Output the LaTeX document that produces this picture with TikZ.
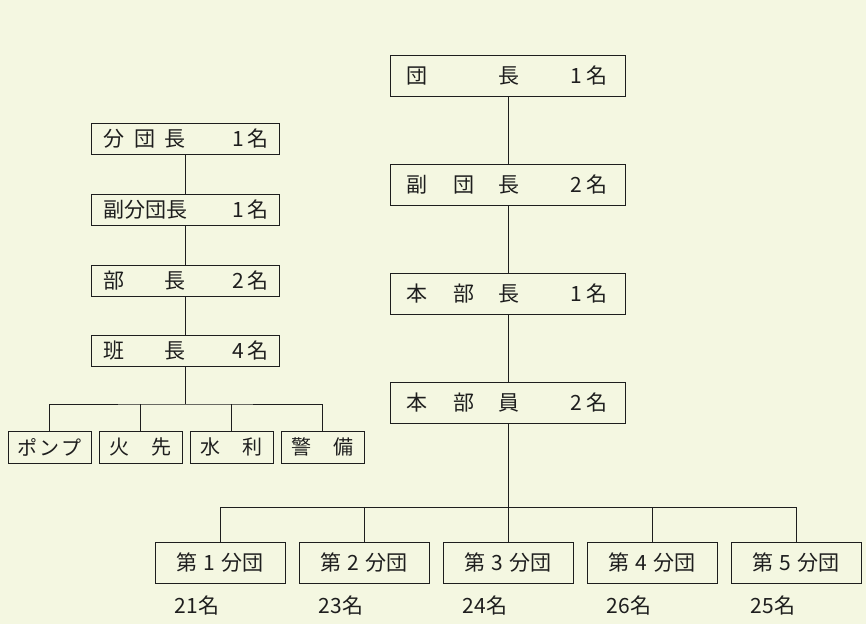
\documentclass[tikz,border=0pt]{standalone}
\usepackage{fontspec}
\newfontfamily\jp{Noto Sans CJK JP}
\usepackage{xcolor}
\usepackage{tikz}
\usetikzlibrary{calc,positioning}
\definecolor{paper}{RGB}{244,247,225}
\definecolor{ink}{RGB}{30,30,30}
\newcommand{\kslot}[2]{\makebox[#1][l]{#2}}
\tikzstyle{frame} = [draw=ink, line width=1pt, text=ink, rectangle]
\tikzstyle{bigbox} = [frame, minimum width=235pt, inner xsep=16pt, inner ysep=2pt,
    minimum height=41pt, font=\jp\fontsize{21pt}{25pt}\selectfont]
\tikzstyle{midbox} = [frame, minimum width=188pt, inner xsep=12pt, inner ysep=2pt,
    minimum height=31pt, font=\jp\fontsize{21pt}{25pt}\selectfont]
\tikzstyle{unitbox} = [frame, minimum width=83pt, minimum height=32pt, inner sep=0pt,
    font=\jp\fontsize{20pt}{24pt}\selectfont]
\tikzstyle{bunbox} = [frame, minimum width=130pt, minimum height=41pt, inner sep=0pt,
    font=\jp\fontsize{21pt}{25pt}\selectfont]
\tikzstyle{numlabel} = [anchor=west, inner sep=0pt, text=ink,
    font=\jp\fontsize{21pt}{25pt}\selectfont]
\tikzstyle{link} = [draw=ink, line width=1pt]

\begin{document}
\begin{tikzpicture}[x=1pt, y=-1pt]
\fill[paper] (0,0) rectangle (866,624);
\node[bigbox] (dantyo) at (508,75.5) {\kslot{203pt}{\kslot{92pt}{団}\kslot{72pt}{長}1\hspace{4pt}名}};
\node[bigbox, below=67pt of dantyo] (fukudantyo) {\kslot{203pt}{\kslot{47pt}{副}\kslot{45pt}{団}\kslot{72pt}{長}2\hspace{4pt}名}};
\node[bigbox, below=67pt of fukudantyo] (honbutyo) {\kslot{203pt}{\kslot{47pt}{本}\kslot{45pt}{部}\kslot{72pt}{長}1\hspace{4pt}名}};
\node[bigbox, below=67pt of honbutyo] (honbuin) {\kslot{203pt}{\kslot{47pt}{本}\kslot{45pt}{部}\kslot{72pt}{員}2\hspace{4pt}名}};

\node[midbox] (bundantyo) at (185,138.5) {\kslot{164pt}{\kslot{32pt}{分}\kslot{30pt}{団}\kslot{68pt}{長}1\hspace{3pt}名}};
\node[midbox, below=39pt of bundantyo] (fukubun) {\kslot{164pt}{\kslot{130pt}{副分団長}1\hspace{3pt}名}};
\node[midbox, below=39pt of fukubun] (butyo) {\kslot{164pt}{\kslot{62pt}{部}\kslot{68pt}{長}2\hspace{3pt}名}};
\node[midbox, below=38pt of butyo] (hantyo) {\kslot{164pt}{\kslot{62pt}{班}\kslot{68pt}{長}4\hspace{3pt}名}};

\node[unitbox] (pump) at (49.5,447) {ポ\hspace{2pt}ン\hspace{2pt}プ};
\node[unitbox, right=7pt of pump] (hisaki) {火\hspace{22pt}先};
\node[unitbox, right=7pt of hisaki] (suiri) {水\hspace{22pt}利};
\node[unitbox, right=7pt of suiri] (keibi) {警\hspace{22pt}備};

\foreach \n/\c [count=\i] in {1/21,2/23,3/24,4/26,5/25} {
  \node[bunbox] (bun\i) at (76+144*\i,562.5) {第\hspace{6pt}\n\hspace{6pt}分団};
  \node[numlabel] (cnt\i) at ($(bun\i.south west)+(20,22)$) {\c 名};
}

\coordinate (lbar) at (185,404);
\coordinate (rbar) at (508,507);
\draw[link] (dantyo) -- (fukudantyo) -- (honbutyo) -- (honbuin) -- (bun3);
\draw[link] (bun1.north) |- (rbar) -| (bun5.north);
\foreach \i in {2,4}
  \draw[link] (bun\i.north) -- (bun\i.north |- rbar);
\draw[link] (bundantyo) -- (fukubun) -- (butyo) -- (hantyo) -- (lbar);
\draw[link] (pump.north) |- (lbar) -| (keibi.north);
\foreach \u in {hisaki,suiri}
  \draw[link] (\u.north) -- (\u.north |- lbar);
\end{tikzpicture}
\end{document}
